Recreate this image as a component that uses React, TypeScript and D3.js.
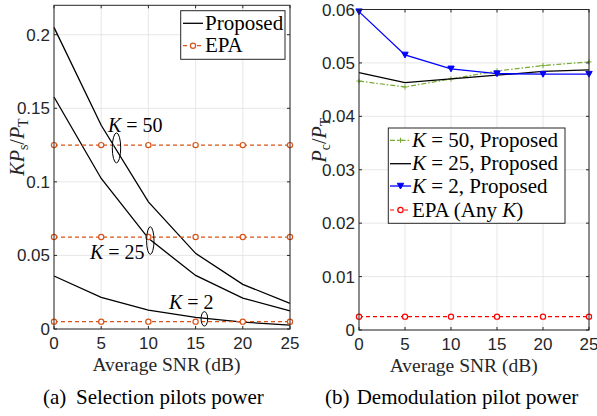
import React from "react";
import * as d3 from "d3";

// SNR sweep (dB)
const snr = [0, 5, 10, 15, 20, 25];

// (a) Selection pilots power, K*Ps/PT
const selK50 = [0.205, 0.1385, 0.0864, 0.0514, 0.0303, 0.0174];
const selK25 = [0.1577, 0.1023, 0.0616, 0.0364, 0.021, 0.0124];
const selK2 = [0.036, 0.0215, 0.0129, 0.0079, 0.0047, 0.0027];
const selEpaLevels = [0.125, 0.0625, 0.005];

// (b) Demodulation pilot power, Pc/PT
const demK50 = [0.0466, 0.0455, 0.047, 0.0485, 0.0495, 0.0502];
const demK25 = [0.0482, 0.0463, 0.047, 0.0477, 0.0484, 0.0487];
const demK2 = [0.0596, 0.0515, 0.0489, 0.048, 0.0479, 0.0479];
const demEpa = [0.0025, 0.0025, 0.0025, 0.0025, 0.0025, 0.0025];

const xTicks = [0, 5, 10, 15, 20, 25];
const selYTicks = [0, 0.05, 0.1, 0.15, 0.2];
const selYTickLabels = ["0", "0.05", "0.1", "0.15", "0.2"];
const demYTicks = [0, 0.01, 0.02, 0.03, 0.04, 0.05, 0.06];
const demYTickLabels = ["0", "0.01", "0.02", "0.03", "0.04", "0.05", "0.06"];

const AX = "#262626";
const GRID = "#e1e1e1";
const ORANGE = "#D95319";
const GREEN = "#77AC30";
const SANS = "'Liberation Sans', Arial, sans-serif";
const SERIF = "'Liberation Serif', 'Times New Roman', serif";

type Lin = d3.ScaleLinear<number, number>;

function Grid({ x, y, yTicks }: { x: Lin; y: Lin; yTicks: number[] }) {
  const [x0, x1] = x.range();
  const [y0, y1] = y.range();
  return (
    <g>
      {xTicks.map((t) => (
        <line key={"gx" + t} x1={x(t)} x2={x(t)} y1={y0} y2={y1} stroke={GRID} strokeWidth={0.8} />
      ))}
      {yTicks.map((t) => (
        <line key={"gy" + t} x1={x0} x2={x1} y1={y(t)} y2={y(t)} stroke={GRID} strokeWidth={0.8} />
      ))}
    </g>
  );
}

function Box({ x, y, yTicks, yLabels }: { x: Lin; y: Lin; yTicks: number[]; yLabels: string[] }) {
  const [x0, x1] = x.range();
  const [y0, y1] = y.range();
  const tl = 3;
  return (
    <g>
      <rect x={x0} y={y1} width={x1 - x0} height={y0 - y1} fill="none" stroke={AX} strokeWidth={1} />
      {xTicks.map((t) => (
        <g key={"tx" + t}>
          <line x1={x(t)} x2={x(t)} y1={y0} y2={y0 - tl} stroke={AX} />
          <line x1={x(t)} x2={x(t)} y1={y1} y2={y1 + tl} stroke={AX} />
          <text x={x(t)} y={y0 + 20} textAnchor="middle" fontFamily={SANS} fontSize={17} fill={AX}>
            {t}
          </text>
        </g>
      ))}
      {yTicks.map((t, i) => (
        <g key={"ty" + t}>
          <line x1={x0} x2={x0 + tl} y1={y(t)} y2={y(t)} stroke={AX} />
          <line x1={x1} x2={x1 - tl} y1={y(t)} y2={y(t)} stroke={AX} />
          <text x={x0 - 4} y={y(t) + 6} textAnchor="end" fontFamily={SANS} fontSize={17} fill={AX}>
            {yLabels[i]}
          </text>
        </g>
      ))}
    </g>
  );
}

function Circle({ cx, cy, color }: { cx: number; cy: number; color: string }) {
  return <circle cx={cx} cy={cy} r={2.6} fill="white" stroke={color} strokeWidth={1.2} />;
}

function TriDown({ cx, cy }: { cx: number; cy: number }) {
  const s = 3.2;
  return (
    <path
      d={`M${cx - s},${cy - s * 0.85}L${cx + s},${cy - s * 0.85}L${cx},${cy + s * 0.95}Z`}
      fill="blue"
      stroke="blue"
      strokeWidth={1}
    />
  );
}

function Plus({ cx, cy }: { cx: number; cy: number }) {
  const s = 2.6;
  return (
    <path d={`M${cx - s},${cy}H${cx + s}M${cx},${cy - s}V${cy + s}`} stroke={GREEN} strokeWidth={1} />
  );
}

function KEq({ x, y, rest, size = 20 }: { x: number; y: number; rest: string; size?: number }) {
  return (
    <text x={x} y={y} fontFamily={SERIF} fontSize={size} fill="black">
      <tspan fontStyle="italic">K</tspan>
      <tspan>{rest}</tspan>
    </text>
  );
}

export default function App() {
  // (a) axes
  const xa = d3.scaleLinear().domain([0, 25]).range([54, 290]);
  const ya = d3.scaleLinear().domain([0, 0.22]).range([329, 5.3]);
  // (b) axes
  const xb = d3.scaleLinear().domain([0, 25]).range([359, 589]);
  const yb = d3.scaleLinear().domain([0, 0.06]).range([330, 9.5]);

  const lineA = d3
    .line<number>()
    .x((_, i) => xa(snr[i]))
    .y((d) => ya(d));
  const lineB = d3
    .line<number>()
    .x((_, i) => xb(snr[i]))
    .y((d) => yb(d));

  return (
    <svg
      width={597}
      height={416}
      style={{ position: "absolute", left: 0, top: 0, background: "white" }}
    >
      {/* ---------- (a) Selection pilots power ---------- */}
      <Grid x={xa} y={ya} yTicks={selYTicks} />
      {[selK50, selK25, selK2].map((s, i) => (
        <path key={"sa" + i} d={lineA(s) || ""} fill="none" stroke="black" strokeWidth={1.3} />
      ))}
      {selEpaLevels.map((lv) => (
        <g key={"epa" + lv}>
          <line
            x1={xa(0)}
            x2={xa(25)}
            y1={ya(lv)}
            y2={ya(lv)}
            stroke={ORANGE}
            strokeWidth={1.2}
            strokeDasharray="4,3"
          />
          {snr.map((s) => (
            <Circle key={s} cx={xa(s)} cy={ya(lv)} color={ORANGE} />
          ))}
        </g>
      ))}
      <Box x={xa} y={ya} yTicks={selYTicks} yLabels={selYTickLabels} />

      {/* group annotations */}
      <ellipse cx={xa(6.62)} cy={ya(0.1231)} rx={4.2} ry={15} fill="none" stroke="black" strokeWidth={1} />
      <KEq x={xa(5.72)} y={ya(0.134)} rest=" = 50" />
      <ellipse cx={xa(10.2)} cy={ya(0.0601)} rx={3.7} ry={13.8} fill="none" stroke="black" strokeWidth={1} />
      <KEq x={xa(3.81)} y={ya(0.0473)} rest=" = 25" />
      <ellipse cx={xa(15.93)} cy={ya(0.0069)} rx={3.3} ry={7.2} fill="none" stroke="black" strokeWidth={1} />
      <KEq x={xa(12.18)} y={ya(0.0134)} rest=" = 2" />

      {/* legend (a) */}
      <g>
        <rect x={180.7} y={10.7} width={104.3} height={48.6} fill="white" stroke={AX} strokeWidth={1} />
        <line x1={183} x2={203} y1={23.3} y2={23.3} stroke="black" strokeWidth={1.3} />
        <text x={205} y={29.8} fontFamily={SERIF} fontSize={21}>
          Proposed
        </text>
        <line x1={183} x2={203} y1={45.7} y2={45.7} stroke={ORANGE} strokeWidth={1.2} strokeDasharray="4,3" />
        <Circle cx={193} cy={45.7} color={ORANGE} />
        <text x={205} y={52.2} fontFamily={SERIF} fontSize={21}>
          EPA
        </text>
      </g>

      {/* axis labels (a) */}
      <text x={166.5} y={371} textAnchor="middle" fontFamily={SERIF} fontSize={19.5} fill={AX}>
        Average SNR (dB)
      </text>
      <text
        transform="translate(24,147) rotate(-90)"
        textAnchor="middle"
        fontFamily={SERIF}
        fontSize={20}
        fill={AX}
      >
        <tspan fontStyle="italic">KP</tspan>
        <tspan fontSize={14} dy={4}>s</tspan>
        <tspan dy={-4}>/</tspan>
        <tspan fontStyle="italic">P</tspan>
        <tspan fontSize={14} dy={4}>T</tspan>
      </text>
      <text x={43} y={404} fontFamily={SERIF} fontSize={21}>
        (a)
      </text>
      <text x={76} y={404} fontFamily={SERIF} fontSize={21}>
        Selection pilots power
      </text>

      {/* ---------- (b) Demodulation pilot power ---------- */}
      <Grid x={xb} y={yb} yTicks={demYTicks} />
      <path d={lineB(demK50) || ""} fill="none" stroke={GREEN} strokeWidth={1.2} strokeDasharray="5,2,1.5,2" />
      {snr.map((s, i) => (
        <Plus key={"p" + s} cx={xb(s)} cy={yb(demK50[i])} />
      ))}
      <path d={lineB(demK25) || ""} fill="none" stroke="black" strokeWidth={1.3} />
      <path d={lineB(demK2) || ""} fill="none" stroke="blue" strokeWidth={1.3} />
      {snr.map((s, i) => (
        <TriDown key={"t" + s} cx={xb(s)} cy={yb(demK2[i])} />
      ))}
      <path d={lineB(demEpa) || ""} fill="none" stroke="red" strokeWidth={1.2} strokeDasharray="4,3" />
      {snr.map((s, i) => (
        <Circle key={"c" + s} cx={xb(s)} cy={yb(demEpa[i])} color="red" />
      ))}
      <Box x={xb} y={yb} yTicks={demYTicks} yLabels={demYTickLabels} />

      {/* legend (b) */}
      <g>
        <rect x={388.3} y={128} width={176.7} height={95.3} fill="white" stroke={AX} strokeWidth={1} />
        <line x1={390} x2={411} y1={140.3} y2={140.3} stroke={GREEN} strokeWidth={1.2} strokeDasharray="5,2,1.5,2" />
        <Plus cx={400.5} cy={140.3} />
        <KEq x={412} y={147} rest=" = 50, Proposed" size={21} />
        <line x1={390} x2={411} y1={163.7} y2={163.7} stroke="black" strokeWidth={1.3} />
        <KEq x={412} y={170.4} rest=" = 25, Proposed" size={21} />
        <line x1={390} x2={411} y1={186} y2={186} stroke="blue" strokeWidth={1.3} />
        <TriDown cx={400.5} cy={186} />
        <KEq x={412} y={192.7} rest=" = 2, Proposed" size={21} />
        <line x1={390} x2={411} y1={210} y2={210} stroke="red" strokeWidth={1.2} strokeDasharray="4,3" />
        <Circle cx={400.5} cy={210} color="red" />
        <text x={412} y={216.7} fontFamily={SERIF} fontSize={21}>
          <tspan>EPA (Any </tspan>
          <tspan fontStyle="italic">K</tspan>
          <tspan>)</tspan>
        </text>
      </g>

      {/* axis labels (b) */}
      <text x={463.7} y={372} textAnchor="middle" fontFamily={SERIF} fontSize={19.5} fill={AX}>
        Average SNR (dB)
      </text>
      <text
        transform="translate(326,140) rotate(-90)"
        textAnchor="middle"
        fontFamily={SERIF}
        fontSize={20}
        fill={AX}
      >
        <tspan fontStyle="italic">P</tspan>
        <tspan fontSize={14} dy={4}>c</tspan>
        <tspan dy={-4}>/</tspan>
        <tspan fontStyle="italic">P</tspan>
        <tspan fontSize={14} dy={4}>T</tspan>
      </text>
      <text x={325} y={404} fontFamily={SERIF} fontSize={21}>
        (b)
      </text>
      <text x={356.7} y={404} fontFamily={SERIF} fontSize={21}>
        Demodulation pilot power
      </text>
    </svg>
  );
}
